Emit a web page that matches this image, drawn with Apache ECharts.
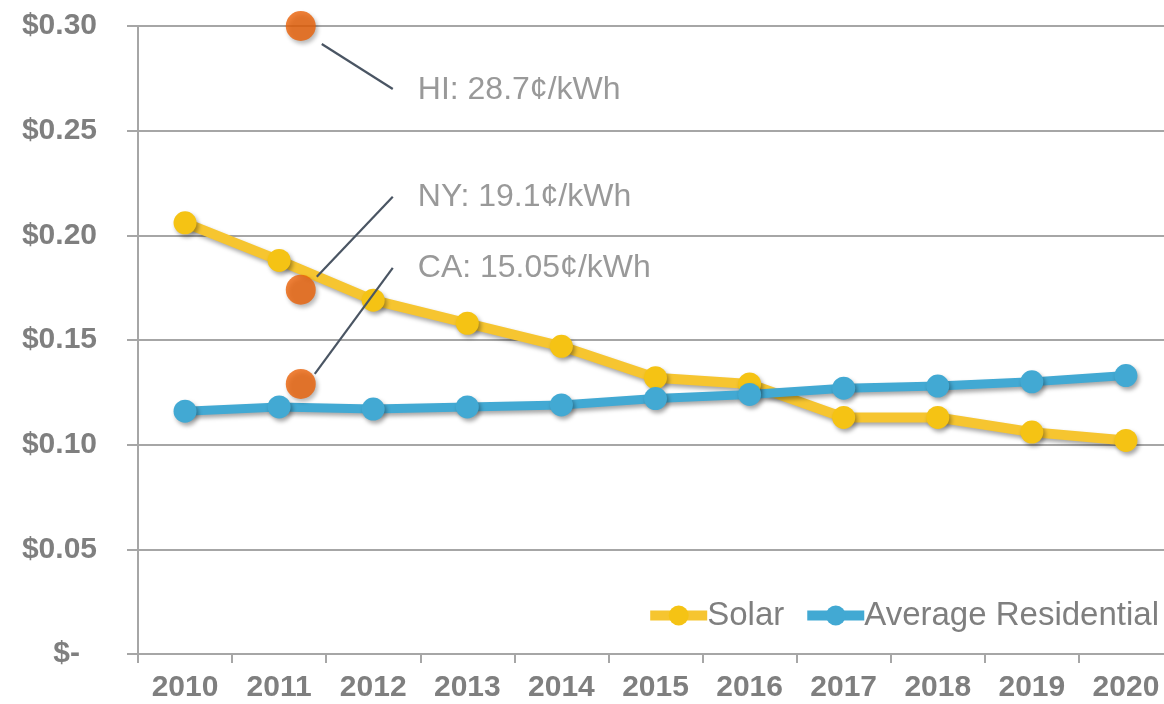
<!DOCTYPE html>
<html>
<head>
<meta charset="utf-8">
<script src="https://cdn.jsdelivr.net/npm/echarts@6/dist/echarts.min.js"></script>
<style>
  html, body { margin: 0; padding: 0; background: #fff; }
  #chart { width: 1164px; height: 704px; }
</style>
</head>
<body>
<div id="chart"></div>
<script>
// data
const years = ['2010', '2011', '2012', '2013', '2014', '2015', '2016', '2017', '2018', '2019', '2020'];
const solar = [0.206, 0.188, 0.169, 0.158, 0.147, 0.132, 0.129, 0.113, 0.113, 0.106, 0.102];
const residential = [0.116, 0.118, 0.117, 0.118, 0.119, 0.122, 0.124, 0.127, 0.128, 0.130, 0.133];
// state call-outs (x is in category units, 0 = 2010)
const stateNames = ['HI: 28.7¢/kWh', 'NY: 19.1¢/kWh', 'CA: 15.05¢/kWh'];
const stateX = [1.23, 1.23, 1.23];
const stateY = [0.30, 0.174, 0.129];
const yTicks = [0, 0.05, 0.10, 0.15, 0.20, 0.25, 0.30];

const FONT = "'Liberation Sans', Arial, sans-serif";
const GRAY = '#7f7f7f';
const GRID = '#a6a6a6';

// label / leader line placement relative to each dot (pixels)
const labelOffset = [[102, 64], [102, -93], [102, -116]];
const leaderFrom = [[21, 18], [16, -13], [14, -10]];
const leaderTo = [[92, 63], [92, -93], [92, -116]];

const chart = echarts.init(document.getElementById('chart'));

const shadow = { shadowBlur: 4, shadowOffsetX: 2, shadowOffsetY: 3, shadowColor: 'rgba(0,0,0,0.35)' };

chart.setOption({
  animation: false,
  grid: { left: 138, top: 26, bottom: 50, right: -9, containLabel: false, outerBoundsMode: 'none' },
  legend: {
    data: ['Solar', 'Average Residential'],
    right: 0,
    top: 594,
    itemWidth: 57,
    itemHeight: 25,
    itemGap: 18,
    lineStyle: { width: 10 },
    textStyle: { fontFamily: FONT, fontSize: 33, color: GRAY, padding: [0, 0, 0, -5] }
  },
  xAxis: [{
    type: 'category',
    data: years,
    boundaryGap: true,
    axisLine: { lineStyle: { color: GRID, width: 2 } },
    axisTick: { show: true, length: 9, lineStyle: { color: GRID, width: 2 } },
    axisLabel: { margin: 19, fontFamily: FONT, fontSize: 30, fontWeight: 'bold', color: GRAY, interval: 0 }
  }, {
    type: 'value',
    min: -0.5,
    max: 10.5,
    show: false
  }],
  yAxis: {
    type: 'value',
    min: yTicks[0],
    max: yTicks[yTicks.length - 1],
    interval: 0.05,
    axisLine: { show: true, onZero: false, lineStyle: { color: GRID, width: 2 } },
    axisTick: { show: true, length: 11, lineStyle: { color: GRID, width: 2 } },
    splitLine: { lineStyle: { color: GRID, width: 2 } },
    axisLabel: {
      margin: 41,
      fontFamily: FONT,
      fontSize: 30,
      fontWeight: 'bold',
      color: GRAY,
      formatter: v => v === 0 ? '{z|$-}' : '$' + v.toFixed(2),
      rich: { z: { fontFamily: FONT, fontSize: 30, fontWeight: 'bold', color: GRAY, padding: [0, 17, 0, 0] } }
    }
  },
  series: [{
    name: 'Solar',
    type: 'line',
    data: solar,
    symbol: 'circle',
    symbolSize: 23,
    itemStyle: Object.assign({ color: '#F5C314' }, shadow),
    lineStyle: Object.assign({ color: '#F6C530', width: 10 }, shadow),
    z: 3
  }, {
    name: 'Average Residential',
    type: 'line',
    data: residential,
    symbol: 'circle',
    symbolSize: 23,
    itemStyle: Object.assign({ color: '#42A9D3' }, shadow),
    lineStyle: Object.assign({ color: '#42A9D3', width: 9 }, shadow),
    z: 3
  }, {
    name: 'States',
    type: 'scatter',
    xAxisIndex: 1,
    symbolSize: 30,
    itemStyle: Object.assign({ color: '#EA6006' }, shadow),
    data: stateY.map((y, i) => ({
      value: [stateX[i], y],
      name: stateNames[i],
      label: { offset: labelOffset[i] }
    })),
    label: {
      show: true,
      position: 'right',
      distance: 0,
      formatter: p => p.name,
      fontFamily: FONT,
      fontSize: 32,
      color: GRAY
    },
    z: 4
  }]
});

// leader lines from each state dot to its label
const leaders = stateY.map((y, i) => {
  const p = chart.convertToPixel({ xAxisIndex: 1, yAxisIndex: 0 }, [stateX[i], y]);
  return {
    type: 'line',
    z: 10,
    shape: {
      x1: p[0] + leaderFrom[i][0], y1: p[1] + leaderFrom[i][1],
      x2: p[0] + leaderTo[i][0], y2: p[1] + leaderTo[i][1]
    },
    style: { stroke: '#4a5563', lineWidth: 2.2 }
  };
});
chart.setOption({ graphic: leaders });
</script>
</body>
</html>
